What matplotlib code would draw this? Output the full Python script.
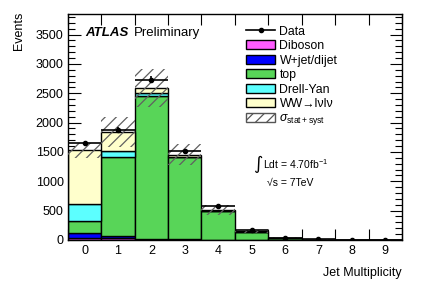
import numpy as np
import matplotlib
matplotlib.use('Agg')
import matplotlib.pyplot as plt
from matplotlib.patches import Patch
from matplotlib.lines import Line2D
from matplotlib.ticker import MultipleLocator, FixedLocator, NullFormatter

plt.rcParams['font.family'] = ['Liberation Sans', 'DejaVu Sans']
plt.rcParams['mathtext.fontset'] = 'custom'
plt.rcParams['mathtext.rm'] = 'Liberation Sans'
plt.rcParams['mathtext.it'] = 'Liberation Sans:italic'
plt.rcParams['hatch.linewidth'] = 0.9

njets = np.arange(10)
diboson = [37, 25, 10, 3, 1, 0.3, 0.1, 0, 0, 0]
wjet = [86, 40, 10, 5, 2, 0.5, 0.2, 0, 0, 0]
top = [192, 1345, 2440, 1400, 490, 140, 32, 7, 1.5, 0.4]
drellyan = [290, 98, 40, 12, 4, 1, 0.3, 0, 0, 0]
ww = [920, 330, 90, 35, 10, 3, 1, 0.3, 0, 0]
data = [1650, 1877, 2734, 1513, 576, 172, 38, 10, 2, 1]
syst = [130, 250, 330, 185, 90, 30, 8, 2, 0.5, 0.2]

samples = [
    ('Diboson', diboson, '#ff5cff'),
    ('W+jet/dijet', wjet, '#0000ff'),
    ('top', top, '#58d558'),
    ('Drell-Yan', drellyan, '#5cffff'),
    ('WW\u2192l\u03bdl\u03bd', ww, '#ffffcc'),
]

fig = plt.figure(figsize=(4.24, 2.87), dpi=100)
ax = fig.add_axes([0.160, 0.164, 0.788, 0.787])

bottom = np.zeros(len(njets))
for name, vals, col in samples:
    vals = np.array(vals, dtype=float)
    ax.bar(njets, vals, width=1.0, bottom=bottom, color=col,
           edgecolor='black', linewidth=1.0, zorder=2)
    bottom += vals
total = bottom

syst = np.array(syst, dtype=float)
ax.bar(njets, 2 * syst, width=1.0, bottom=total - syst, fill=False,
       hatch='///', edgecolor='#606060', linewidth=0, zorder=3)

data = np.array(data, dtype=float)
ax.errorbar(njets, data, xerr=0.5, yerr=np.sqrt(data), fmt='o', ms=3,
            color='black', lw=1.2, capsize=0, zorder=4)

ax.set_xlim(-0.5, 9.5)
ax.set_ylim(0, 3850)

# ROOT-like ticks: inside, all four sides, x ticks at bin edges
ax.xaxis.set_major_locator(FixedLocator(np.arange(-0.5, 10, 1.0)))
ax.xaxis.set_major_formatter(NullFormatter())
for i in njets:
    ax.text(i, -90, str(i), ha='center', va='top', fontsize=9)
ax.yaxis.set_major_locator(MultipleLocator(500))
ax.yaxis.set_minor_locator(MultipleLocator(100))
ax.tick_params(axis='both', which='both', direction='in', top=True, right=True)
ax.tick_params(axis='x', which='major', length=8, width=0.8)
ax.tick_params(axis='y', which='major', length=9, width=0.8, labelsize=9, pad=3)
ax.tick_params(axis='y', which='minor', length=5, width=0.8)
for s in ax.spines.values():
    s.set_linewidth(1.0)

fig.text(0.045, 0.96, 'Events', rotation=90, ha='center', va='top', fontsize=9)
fig.text(0.948, 0.028, 'Jet Multiplicity', ha='right', va='bottom', fontsize=9)

ax.text(0.052, 0.915, 'ATLAS', transform=ax.transAxes, fontsize=9.5,
        fontweight='bold', fontstyle='italic', va='center')
ax.text(0.198, 0.915, 'Preliminary', transform=ax.transAxes, fontsize=9.5,
        va='center')

handles = [Line2D([0], [0], color='black', marker='o', ms=3, lw=1.2)]
labels = ['Data']
for name, vals, col in samples:
    handles.append(Patch(facecolor=col, edgecolor='black', linewidth=1.0))
    labels.append(name)
handles.append(Patch(facecolor='white', edgecolor='#555555', hatch='///',
                     linewidth=1.0))
labels.append(r'$\sigma_{\rm stat+syst}$')
ax.legend(handles, labels, loc='upper left', bbox_to_anchor=(0.52, 0.97),
          frameon=False, fontsize=8.8, handlelength=2.3, handleheight=0.75,
          labelspacing=0.2, handletextpad=0.4, borderaxespad=0)

ax.text(0.555, 0.335, '\u222b', transform=ax.transAxes, fontsize=13,
        va='center', family='DejaVu Sans')
ax.text(0.585, 0.335, 'Ldt = 4.70fb$^{-1}$', transform=ax.transAxes,
        fontsize=7.5, va='center')
ax.text(0.595, 0.25, '\u221as = 7TeV', transform=ax.transAxes,
        fontsize=7.5, va='center')

fig.savefig('out.png', dpi=100)
